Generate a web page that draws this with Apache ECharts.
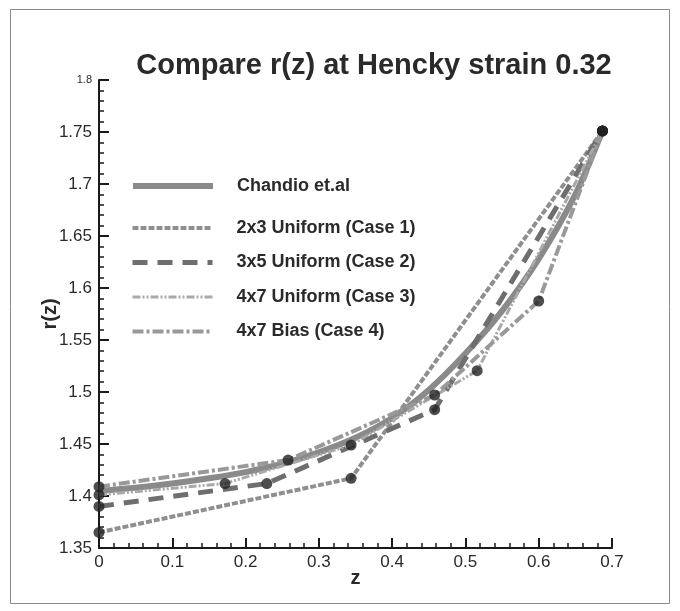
<!DOCTYPE html>
<html>
<head>
<meta charset="utf-8">
<script src="https://cdn.jsdelivr.net/npm/echarts@6/dist/echarts.min.js"></script>
<style>
  html, body { margin: 0; padding: 0; background: #fff; }
  #chart { width: 680px; height: 611px; }
</style>
</head>
<body>
<div id="chart"></div>
<script>
// Axis ticks
const zTicks = [0, 0.1, 0.2, 0.3, 0.4, 0.5, 0.6, 0.7];
const rTicks = [1.35, 1.4, 1.45, 1.5, 1.55, 1.6, 1.65, 1.7, 1.75, 1.8];

// Reference solution (Chandio et.al)
const zChandio = [0, 0.05, 0.1, 0.15, 0.2, 0.25, 0.3, 0.35, 0.4, 0.45, 0.5, 0.55, 0.6, 0.65, 0.687];
const rChandio = [1.405, 1.408, 1.412, 1.417, 1.423, 1.431, 1.442, 1.456, 1.475, 1.502, 1.537, 1.578, 1.628, 1.690, 1.751];

// Case 1: 2x3 uniform mesh
const zCase1 = [0, 0.344, 0.687];
const rCase1 = [1.365, 1.417, 1.751];

// Case 2: 3x5 uniform mesh
const zCase2 = [0, 0.229, 0.458, 0.687];
const rCase2 = [1.390, 1.412, 1.483, 1.751];

// Case 3: 4x7 uniform mesh
const zCase3 = [0, 0.172, 0.344, 0.516, 0.687];
const rCase3 = [1.401, 1.412, 1.449, 1.5205, 1.751];

// Case 4: 4x7 biased mesh
const zCase4 = [0, 0.258, 0.458, 0.600, 0.687];
const rCase4 = [1.409, 1.4346, 1.497, 1.5875, 1.751];

const names = ['Chandio et.al', '2x3 Uniform (Case 1)', '3x5 Uniform (Case 2)', '4x7 Uniform (Case 3)', '4x7 Bias (Case 4)'];

// Line look of each series: colour, width, dash pattern
const colors = ['#8a8a8a', '#8f8f8f', '#6e6e6e', '#a9a9a9', '#999999'];
const widths = [6, 4, 5, 3, 4];
const dashes = ['solid', [6, 2], [15, 10], [8, 2, 2, 2, 2, 2], [11, 3, 3, 3]];

const pairs = (zs, rs) => zs.map((z, i) => [z, rs[i]]);
const nodes = [].concat(
  pairs(zCase1, rCase1), pairs(zCase2, rCase2),
  pairs(zCase3, rCase3), pairs(zCase4, rCase4)
);

const chart = echarts.init(document.getElementById('chart'), null, { renderer: 'canvas' });
const FONT = 'Liberation Sans, Arial, sans-serif';

const lineSeries = (i, data, extra) => Object.assign({
  name: names[i],
  type: 'line',
  data: data,
  symbol: 'none',
  lineStyle: { color: colors[i], width: widths[i], type: dashes[i], cap: 'butt' },
  itemStyle: { color: colors[i] },
  z: 2
}, extra || {});

const legendItem = i => ({
  name: names[i],
  itemStyle: { color: 'rgba(0,0,0,0)', borderWidth: 0, opacity: 0 },
  lineStyle: { color: colors[i], width: widths[i], type: dashes[i], cap: 'butt' }
});

const legendText = { fontFamily: FONT, fontWeight: 'bold', fontSize: 18, color: '#2a2a2a', padding: [0, 0, 0, 19] };

chart.setOption({
  backgroundColor: '#ffffff',
  animation: false,
  title: {
    text: 'Compare r(z) at Hencky strain 0.32',
    left: 369,
    textAlign: 'center',
    top: 46,
    textStyle: { fontFamily: FONT, fontWeight: 'bold', fontSize: 29, color: '#2a2a2a' }
  },
  graphic: [{
    type: 'rect',
    shape: { x: 10.5, y: 9.5, width: 659, height: 594 },
    style: { fill: 'none', stroke: '#8a8a8a', lineWidth: 1 },
    silent: true, z: -1
  }],
  legend: [{
    data: [legendItem(0)],
    orient: 'vertical',
    left: 125, top: 172,
    itemWidth: 80, itemHeight: 14,
    textStyle: legendText
  }, {
    data: [1, 2, 3, 4].map(legendItem),
    orient: 'vertical',
    left: 125, top: 214,
    itemWidth: 80, itemHeight: 14, itemGap: 16.5,
    textStyle: legendText
  }],
  grid: { left: 99, right: 68, top: 80, bottom: 63, containLabel: false },
  xAxis: {
    type: 'value',
    min: zTicks[0], max: zTicks[zTicks.length - 1], interval: 0.1,
    name: 'z', nameLocation: 'middle', nameGap: 20, nameMoveOverlap: false,
    nameTextStyle: { fontFamily: FONT, fontWeight: 'bold', fontSize: 20, color: '#2a2a2a' },
    axisLine: { lineStyle: { color: '#1a1a1a', width: 2 } },
    axisTick: { inside: true, length: 10, lineStyle: { color: '#1a1a1a', width: 2 } },
    minorTick: { show: true, splitNumber: 5, length: 5, lineStyle: { color: '#1a1a1a', width: 1.5 } },
    splitLine: { show: false },
    axisLabel: {
      margin: 6, fontFamily: FONT, fontSize: 17, color: '#2a2a2a',
      formatter: v => String(parseFloat(v.toFixed(2)))
    }
  },
  yAxis: {
    type: 'value',
    min: rTicks[0], max: rTicks[rTicks.length - 1], interval: 0.05,
    name: 'r(z)', nameLocation: 'middle', nameGap: 39, nameRotate: 90, nameMoveOverlap: false,
    nameTextStyle: { fontFamily: FONT, fontWeight: 'bold', fontSize: 20, color: '#2a2a2a' },
    axisLine: { show: true, lineStyle: { color: '#1a1a1a', width: 2 } },
    axisTick: { show: true, inside: true, length: 10, lineStyle: { color: '#1a1a1a', width: 2 } },
    minorTick: { show: true, splitNumber: 5, length: 5, lineStyle: { color: '#1a1a1a', width: 1.5 } },
    splitLine: { show: false },
    axisLabel: {
      margin: 7, fontFamily: FONT, fontSize: 17, color: '#2a2a2a',
      formatter: v => {
        const s = String(parseFloat(v.toFixed(2)));
        return Math.abs(v - rTicks[rTicks.length - 1]) < 1e-9 ? '{s|' + s + '}' : s;
      },
      rich: { s: { fontFamily: FONT, fontSize: 11, color: '#2a2a2a' } }
    }
  },
  series: [
    lineSeries(0, pairs(zChandio, rChandio), { smooth: 0.3 }),
    lineSeries(1, pairs(zCase1, rCase1)),
    lineSeries(2, pairs(zCase2, rCase2)),
    lineSeries(3, pairs(zCase3, rCase3)),
    lineSeries(4, pairs(zCase4, rCase4)),
    {
      name: 'nodes',
      type: 'scatter',
      data: nodes,
      symbol: 'circle',
      symbolSize: 11,
      itemStyle: { color: '#222222' },
      z: 5
    }
  ]
});
</script>
</body>
</html>
